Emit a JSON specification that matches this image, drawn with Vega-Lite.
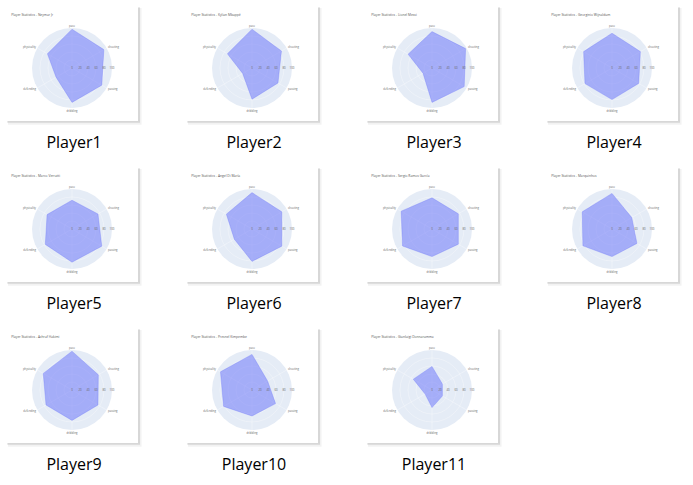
{
  "$schema": "https://vega.github.io/schema/vega-lite/v6.json",
  "padding": 0,
  "background": "white",
  "config": {"view": {"stroke": null}, "axis": {"disable": true}, "font": "Open Sans"},
  "data": {"values": [
    {"player": "Player1", "name": "Neymar Jr", "stat": "pace", "idx": 0, "value": 97},
    {"player": "Player1", "name": "Neymar Jr", "stat": "shooting", "idx": 1, "value": 92},
    {"player": "Player1", "name": "Neymar Jr", "stat": "passing", "idx": 2, "value": 86},
    {"player": "Player1", "name": "Neymar Jr", "stat": "dribbling", "idx": 3, "value": 86},
    {"player": "Player1", "name": "Neymar Jr", "stat": "defending", "idx": 4, "value": 46},
    {"player": "Player1", "name": "Neymar Jr", "stat": "physicality", "idx": 5, "value": 71},
    {"player": "Player2", "name": "Kylian Mbappé", "stat": "pace", "idx": 0, "value": 97},
    {"player": "Player2", "name": "Kylian Mbappé", "stat": "shooting", "idx": 1, "value": 85},
    {"player": "Player2", "name": "Kylian Mbappé", "stat": "passing", "idx": 2, "value": 75},
    {"player": "Player2", "name": "Kylian Mbappé", "stat": "dribbling", "idx": 3, "value": 78},
    {"player": "Player2", "name": "Kylian Mbappé", "stat": "defending", "idx": 4, "value": 27},
    {"player": "Player2", "name": "Kylian Mbappé", "stat": "physicality", "idx": 5, "value": 71},
    {"player": "Player3", "name": "Lionel Messi", "stat": "pace", "idx": 0, "value": 91},
    {"player": "Player3", "name": "Lionel Messi", "stat": "shooting", "idx": 1, "value": 97},
    {"player": "Player3", "name": "Lionel Messi", "stat": "passing", "idx": 2, "value": 93},
    {"player": "Player3", "name": "Lionel Messi", "stat": "dribbling", "idx": 3, "value": 86},
    {"player": "Player3", "name": "Lionel Messi", "stat": "defending", "idx": 4, "value": 26},
    {"player": "Player3", "name": "Lionel Messi", "stat": "physicality", "idx": 5, "value": 69},
    {"player": "Player4", "name": "Georginio Wijnaldum", "stat": "pace", "idx": 0, "value": 87},
    {"player": "Player4", "name": "Georginio Wijnaldum", "stat": "shooting", "idx": 1, "value": 82},
    {"player": "Player4", "name": "Georginio Wijnaldum", "stat": "passing", "idx": 2, "value": 77},
    {"player": "Player4", "name": "Georginio Wijnaldum", "stat": "dribbling", "idx": 3, "value": 79},
    {"player": "Player4", "name": "Georginio Wijnaldum", "stat": "defending", "idx": 4, "value": 78},
    {"player": "Player4", "name": "Georginio Wijnaldum", "stat": "physicality", "idx": 5, "value": 82},
    {"player": "Player5", "name": "Marco Verratti", "stat": "pace", "idx": 0, "value": 72},
    {"player": "Player5", "name": "Marco Verratti", "stat": "shooting", "idx": 1, "value": 75},
    {"player": "Player5", "name": "Marco Verratti", "stat": "passing", "idx": 2, "value": 86},
    {"player": "Player5", "name": "Marco Verratti", "stat": "dribbling", "idx": 3, "value": 83},
    {"player": "Player5", "name": "Marco Verratti", "stat": "defending", "idx": 4, "value": 77},
    {"player": "Player5", "name": "Marco Verratti", "stat": "physicality", "idx": 5, "value": 72},
    {"player": "Player6", "name": "Angel Di María", "stat": "pace", "idx": 0, "value": 91},
    {"player": "Player6", "name": "Angel Di María", "stat": "shooting", "idx": 1, "value": 86},
    {"player": "Player6", "name": "Angel Di María", "stat": "passing", "idx": 2, "value": 86},
    {"player": "Player6", "name": "Angel Di María", "stat": "dribbling", "idx": 3, "value": 81},
    {"player": "Player6", "name": "Angel Di María", "stat": "defending", "idx": 4, "value": 51},
    {"player": "Player6", "name": "Angel Di María", "stat": "physicality", "idx": 5, "value": 74},
    {"player": "Player7", "name": "Sergio Ramos García", "stat": "pace", "idx": 0, "value": 78},
    {"player": "Player7", "name": "Sergio Ramos García", "stat": "shooting", "idx": 1, "value": 76},
    {"player": "Player7", "name": "Sergio Ramos García", "stat": "passing", "idx": 2, "value": 76},
    {"player": "Player7", "name": "Sergio Ramos García", "stat": "dribbling", "idx": 3, "value": 69},
    {"player": "Player7", "name": "Sergio Ramos García", "stat": "defending", "idx": 4, "value": 85},
    {"player": "Player7", "name": "Sergio Ramos García", "stat": "physicality", "idx": 5, "value": 89},
    {"player": "Player8", "name": "Marquinhos", "stat": "pace", "idx": 0, "value": 89},
    {"player": "Player8", "name": "Marquinhos", "stat": "shooting", "idx": 1, "value": 57},
    {"player": "Player8", "name": "Marquinhos", "stat": "passing", "idx": 2, "value": 72},
    {"player": "Player8", "name": "Marquinhos", "stat": "dribbling", "idx": 3, "value": 69},
    {"player": "Player8", "name": "Marquinhos", "stat": "defending", "idx": 4, "value": 84},
    {"player": "Player8", "name": "Marquinhos", "stat": "physicality", "idx": 5, "value": 86},
    {"player": "Player9", "name": "Achraf Hakimi", "stat": "pace", "idx": 0, "value": 97},
    {"player": "Player9", "name": "Achraf Hakimi", "stat": "shooting", "idx": 1, "value": 76},
    {"player": "Player9", "name": "Achraf Hakimi", "stat": "passing", "idx": 2, "value": 75},
    {"player": "Player9", "name": "Achraf Hakimi", "stat": "dribbling", "idx": 3, "value": 76},
    {"player": "Player9", "name": "Achraf Hakimi", "stat": "defending", "idx": 4, "value": 75},
    {"player": "Player9", "name": "Achraf Hakimi", "stat": "physicality", "idx": 5, "value": 83},
    {"player": "Player10", "name": "Presnel Kimpembe", "stat": "pace", "idx": 0, "value": 89},
    {"player": "Player10", "name": "Presnel Kimpembe", "stat": "shooting", "idx": 1, "value": 45},
    {"player": "Player10", "name": "Presnel Kimpembe", "stat": "passing", "idx": 2, "value": 68},
    {"player": "Player10", "name": "Presnel Kimpembe", "stat": "dribbling", "idx": 3, "value": 65},
    {"player": "Player10", "name": "Presnel Kimpembe", "stat": "defending", "idx": 4, "value": 82},
    {"player": "Player10", "name": "Presnel Kimpembe", "stat": "physicality", "idx": 5, "value": 91},
    {"player": "Player11", "name": "Gianluigi Donnarumma", "stat": "pace", "idx": 0, "value": 59},
    {"player": "Player11", "name": "Gianluigi Donnarumma", "stat": "shooting", "idx": 1, "value": 30},
    {"player": "Player11", "name": "Gianluigi Donnarumma", "stat": "passing", "idx": 2, "value": 30},
    {"player": "Player11", "name": "Gianluigi Donnarumma", "stat": "dribbling", "idx": 3, "value": 44},
    {"player": "Player11", "name": "Gianluigi Donnarumma", "stat": "defending", "idx": 4, "value": 20},
    {"player": "Player11", "name": "Gianluigi Donnarumma", "stat": "physicality", "idx": 5, "value": 54}
  ]},
  "transform": [
    {"calculate": "PI/2 - datum.idx*PI/3", "as": "ang"},
    {"calculate": "cos(datum.ang)", "as": "ux"},
    {"calculate": "sin(datum.ang)", "as": "uy"},
    {"calculate": "datum.value/100*datum.ux", "as": "px"},
    {"calculate": "datum.value/100*datum.uy", "as": "py"},
    {"calculate": "datum.ux*1.04", "as": "lx"},
    {"calculate": "datum.uy*1.06", "as": "ly"},
    {"calculate": "datum.idx*0.2", "as": "tx"},
    {"calculate": "format(datum.idx*20, 'd')", "as": "tlabel"},
    {"calculate": "'Player Statistics - ' + datum.name", "as": "title"}
  ],
  "facet": {"field": "player", "type": "nominal",
    "header": {"title": null, "labelExpr": "''", "labelFontSize": 0, "labelPadding": 0, "titlePadding": 0},
    "sort": ["Player1","Player2","Player3","Player4","Player5","Player6","Player7","Player8","Player9","Player10","Player11"]},
  "columns": 4,
  "spacing": 0,
  "spec": {
    "width": 180,
    "height": 161,
    "layer": [
      {"transform": [{"filter": "datum.idx == 0"}],
       "mark": {"type": "rect", "color": "#000000", "opacity": 0.05},
       "encoding": {
         "x": {"datum": -1.6, "type": "quantitative", "scale": {"domain": [-1.8, 2.7], "nice": false, "zero": false}, "axis": null},
         "x2": {"datum": 1.74},
         "y": {"datum": 1.5, "type": "quantitative", "scale": {"domain": [-2.325, 1.7], "nice": false, "zero": false}, "axis": null},
         "y2": {"datum": -1.42}}},
      {"transform": [{"filter": "datum.idx == 0"}],
       "mark": {"type": "rect", "color": "#000000", "opacity": 0.11},
       "encoding": {
         "x": {"datum": -1.62, "type": "quantitative"},
         "x2": {"datum": 1.7},
         "y": {"datum": 1.52, "type": "quantitative"},
         "y2": {"datum": -1.37}}},
      {"transform": [{"filter": "datum.idx == 0"}],
       "mark": {"type": "rect", "color": "#ffffff", "opacity": 1},
       "encoding": {
         "x": {"datum": -1.65, "type": "quantitative"},
         "x2": {"datum": 1.65},
         "y": {"datum": 1.55, "type": "quantitative"},
         "y2": {"datum": -1.325}}},
      {"transform": [{"filter": "datum.idx == 0"}],
       "mark": {"type": "point", "shape": "circle", "filled": true, "color": "#e5ecf6", "opacity": 1, "size": 6400},
       "encoding": {"x": {"datum": 0, "type": "quantitative"}, "y": {"datum": 0, "type": "quantitative"}}},
      {"transform": [{"filter": "datum.idx == 0"}],
       "mark": {"type": "point", "shape": "circle", "filled": false, "stroke": "#ffffff", "strokeWidth": 0.4, "opacity": 0.8, "size": 256},
       "encoding": {"x": {"datum": 0, "type": "quantitative"}, "y": {"datum": 0, "type": "quantitative"}}},
      {"transform": [{"filter": "datum.idx == 0"}],
       "mark": {"type": "point", "shape": "circle", "filled": false, "stroke": "#ffffff", "strokeWidth": 0.4, "opacity": 0.8, "size": 1024},
       "encoding": {"x": {"datum": 0, "type": "quantitative"}, "y": {"datum": 0, "type": "quantitative"}}},
      {"transform": [{"filter": "datum.idx == 0"}],
       "mark": {"type": "point", "shape": "circle", "filled": false, "stroke": "#ffffff", "strokeWidth": 0.4, "opacity": 0.8, "size": 2304},
       "encoding": {"x": {"datum": 0, "type": "quantitative"}, "y": {"datum": 0, "type": "quantitative"}}},
      {"transform": [{"filter": "datum.idx == 0"}],
       "mark": {"type": "point", "shape": "circle", "filled": false, "stroke": "#ffffff", "strokeWidth": 0.4, "opacity": 0.8, "size": 4096},
       "encoding": {"x": {"datum": 0, "type": "quantitative"}, "y": {"datum": 0, "type": "quantitative"}}},
      {"mark": {"type": "rule", "color": "#ffffff", "strokeWidth": 0.4, "opacity": 0.8},
       "encoding": {
         "x": {"field": "ux", "type": "quantitative"}, "y": {"field": "uy", "type": "quantitative"},
         "x2": {"datum": 0}, "y2": {"datum": 0}}},
      {"mark": {"type": "line", "interpolate": "linear-closed", "fill": "#636efa", "fillOpacity": 0.5, "stroke": "#636efa", "strokeOpacity": 0.6, "strokeWidth": 0.5},
       "encoding": {
         "x": {"field": "px", "type": "quantitative"},
         "y": {"field": "py", "type": "quantitative"},
         "order": {"field": "idx", "type": "quantitative"}}},
      {"transform": [{"filter": "datum.idx == 0 || datum.idx == 3"}],
       "mark": {"type": "text", "align": "center", "baseline": "middle", "fontSize": 2.7, "color": "#666666"},
       "encoding": {"x": {"field": "lx", "type": "quantitative"}, "y": {"field": "ly", "type": "quantitative"}, "text": {"field": "stat", "type": "nominal"}}},
      {"transform": [{"filter": "datum.idx == 1 || datum.idx == 2"}],
       "mark": {"type": "text", "align": "left", "baseline": "middle", "fontSize": 2.7, "color": "#666666"},
       "encoding": {"x": {"field": "lx", "type": "quantitative"}, "y": {"field": "ly", "type": "quantitative"}, "text": {"field": "stat", "type": "nominal"}}},
      {"transform": [{"filter": "datum.idx == 4 || datum.idx == 5"}],
       "mark": {"type": "text", "align": "right", "baseline": "middle", "fontSize": 2.7, "color": "#666666"},
       "encoding": {"x": {"field": "lx", "type": "quantitative"}, "y": {"field": "ly", "type": "quantitative"}, "text": {"field": "stat", "type": "nominal"}}},
      {"mark": {"type": "text", "align": "center", "baseline": "middle", "fontSize": 2.8, "color": "#666666"},
       "encoding": {"x": {"field": "tx", "type": "quantitative"}, "y": {"datum": 0, "type": "quantitative"}, "text": {"field": "tlabel", "type": "nominal"}}},
      {"transform": [{"filter": "datum.idx == 0"}],
       "mark": {"type": "text", "align": "left", "baseline": "middle", "fontSize": 3.3, "color": "#555555"},
       "encoding": {"x": {"datum": -1.52, "type": "quantitative"}, "y": {"datum": 1.33, "type": "quantitative"}, "text": {"field": "title", "type": "nominal"}}},
      {"transform": [{"filter": "datum.idx == 0"}],
       "mark": {"type": "text", "align": "center", "baseline": "middle", "fontSize": 16, "color": "#000000", "font": "Open Sans"},
       "encoding": {"x": {"datum": 0.05, "type": "quantitative"}, "y": {"datum": -1.875, "type": "quantitative"}, "text": {"field": "player", "type": "nominal"}}}
    ]
  }
}
